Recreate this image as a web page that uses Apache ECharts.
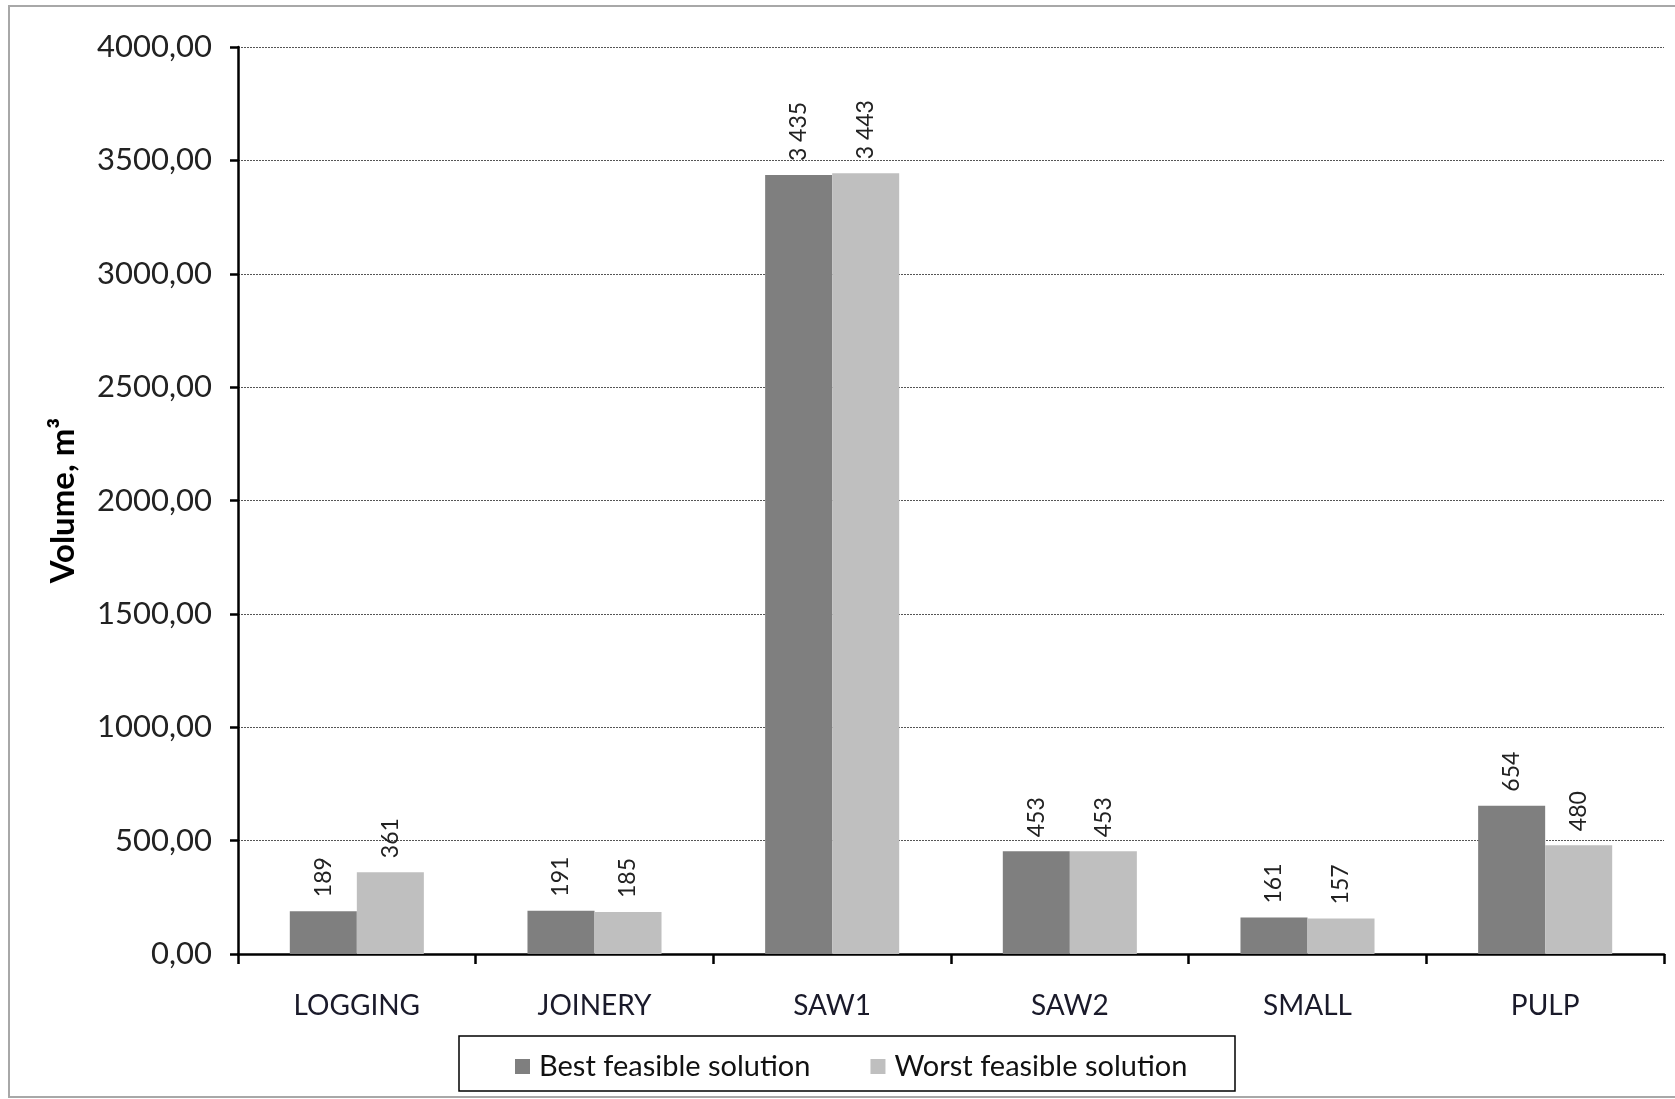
<!DOCTYPE html>
<html>
<head>
<meta charset="utf-8">
<script src="https://cdn.jsdelivr.net/npm/echarts@6/dist/echarts.min.js"></script>
<style>
  html, body { margin: 0; padding: 0; background: #fff; }
  #main { width: 1675px; height: 1099px; }
</style>
</head>
<body>
<div id="main"></div>
<script>
var categories = ['LOGGING', 'JOINERY', 'SAW1', 'SAW2', 'SMALL', 'PULP'];
var bestValues = [189, 191, 3435, 453, 161, 654];
var worstValues = [361, 185, 3443, 453, 157, 480];
var seriesNames = ['Best feasible solution', 'Worst feasible solution'];

var font = 'Lato';

function fmtLabel(p) {
  // thousands separated by a space, like the source
  return String(p.value).replace(/\B(?=(\d{3})+(?!\d))/g, ' ');
}

var barLabel = {
  show: true,
  position: 'top',
  rotate: 90,
  align: 'left',
  verticalAlign: 'middle',
  distance: 14,
  color: '#222',
  fontFamily: font,
  fontSize: 23,
  formatter: fmtLabel
};

var myChart = echarts.init(document.getElementById('main'));
var option = {
  backgroundColor: '#fff',
  animation: false,
  grid: { left: 238, right: 11, top: 47, bottom: 145 },
  graphic: [
    { type: 'rect', shape: { x: 9, y: 6, width: 1690, height: 1091 },
      style: { fill: 'none', stroke: '#a8a8a8', lineWidth: 2 } },
    { type: 'rect', shape: { x: 459, y: 1036, width: 776, height: 55 },
      style: { fill: 'none', stroke: '#000', lineWidth: 1.5 } }
  ],
  legend: {
    left: 510,
    top: 1047,
    itemWidth: 15,
    itemHeight: 15,
    itemGap: 60,
    icon: 'rect',
    data: seriesNames,
    textStyle: { fontFamily: font, fontSize: 29, color: '#111', padding: [0, 0, 0, 4] }
  },
  xAxis: {
    type: 'category',
    data: categories,
    axisLine: { lineStyle: { color: '#000', width: 2.5 } },
    axisTick: { show: true, length: 10, lineStyle: { color: '#000', width: 2.5 } },
    axisLabel: { margin: 38, fontFamily: font, fontSize: 28, color: '#1a1a2a' }
  },
  yAxis: {
    type: 'value',
    min: 0,
    max: 4000,
    interval: 500,
    name: 'Volume, m³',
    nameLocation: 'middle',
    nameRotate: 90,
    nameGap: 158,
    nameTextStyle: { fontFamily: font, fontSize: 33, fontWeight: 'bold', color: '#000' },
    axisLine: { show: true, lineStyle: { color: '#000', width: 2.5 } },
    axisTick: { show: true, length: 8, lineStyle: { color: '#000', width: 2.5 } },
    axisLabel: {
      margin: 26, fontFamily: font, fontSize: 31, color: '#222',
      formatter: function (v) { return v.toFixed(2).replace('.', ','); }
    },
    splitLine: { show: true, lineStyle: { color: '#555', type: [2, 1], width: 1 } }
  },
  series: [
    {
      name: seriesNames[0],
      type: 'bar',
      data: bestValues,
      barGap: '0%',
      barCategoryGap: '43.6%',
      itemStyle: { color: '#7f7f7f' },
      label: barLabel
    },
    {
      name: seriesNames[1],
      type: 'bar',
      data: worstValues,
      itemStyle: { color: '#bfbfbf' },
      label: barLabel
    }
  ]
};
myChart.setOption(option);
</script>
</body>
</html>
